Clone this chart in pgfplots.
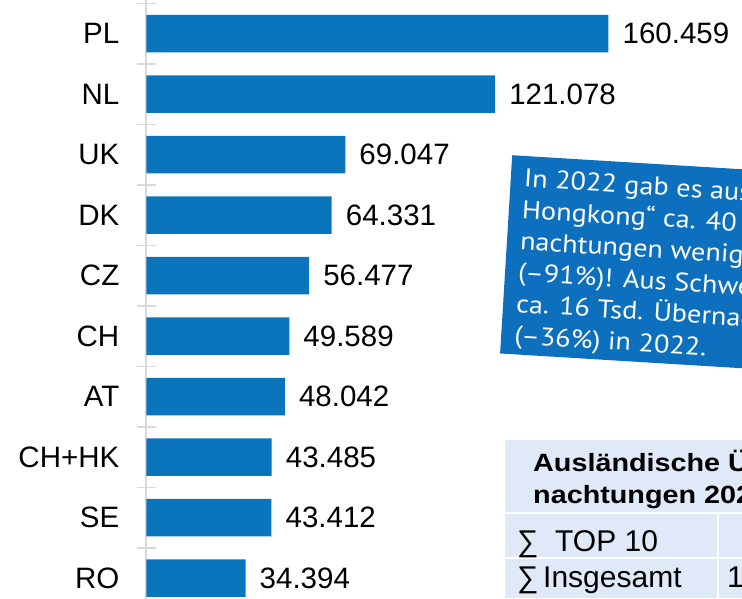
\documentclass[border=0pt]{standalone}
\usepackage{pgfplots}
\pgfplotsset{compat=1.18}
\usepackage{fontspec}
\setmainfont{Liberation Sans}
\newfontfamily\boxfont{PT Sans}
\definecolor{barblue}{RGB}{10,116,189}
\definecolor{boxblue}{RGB}{12,112,190}
\definecolor{tabbg}{RGB}{224,233,247}
\definecolor{axgray}{RGB}{217,217,217}
\begin{document}
\begin{tikzpicture}[x=1pt,y=1pt]
\useasboundingbox (0,0) rectangle (742,-598);
\clip (0,0) rectangle (742,-598);
\begin{axis}[
  anchor=north west, at={(146.5pt,0.38pt)},
  scale only axis,
  x=2.879pt, y=60.5pt, y dir=reverse,
  xmin=0, xmax=200, ymin=-0.56, ymax=9.6,
  xbar, bar width=37.5pt,
  axis x line=none, axis y line*=left,
  axis line style={axgray, line width=2pt},
  ytick={0,...,9},
  yticklabels={PL,NL,UK,DK,CZ,CH,AT,CH+HK,SE,RO},
  minor ytick={-0.5,0.5,...,9.5},
  major tick length=0pt, minor tick length=18pt, tick align=center,
  minor tick style={axgray, line width=1.5pt},
  yticklabel style={font=\fontsize{29.5}{34}\selectfont, inner sep=0pt, anchor=east, xshift=-27pt},
  nodes near coords={\pgfmathprintnumber[fixed,fixed zerofill,precision=3,assume math mode=true]{\pgfplotspointmeta}},
  point meta=x,
  nodes near coords style={font=\fontsize{29.5}{34}\selectfont, anchor=west, inner sep=0pt, xshift=14pt},
  clip=false,
]
\addplot[fill=barblue, draw=none] coordinates {
(160.459,0) (121.078,1) (69.047,2) (64.331,3) (56.477,4)
(49.589,5) (48.042,6) (43.485,7) (43.412,8) (34.394,9)};
\end{axis}
% text box
\node[rotate=-3.5, xscale=1.11, anchor=north west, fill=boxblue, text=white, inner xsep=12pt, inner ysep=5pt, align=left, font=\boxfont\fontsize{25.5}{31.4}\selectfont] at (512,-155)
{\rule{0pt}{26pt}In 2022 gab es aus „China inkl.\\ Hongkong“ ca. 40 Tsd. Über-\\ nachtungen weniger als 2019\\ (–91\%)! Aus Schweden kamen\\ ca. 16 Tsd. Übernachtungen\\ (–36\%) in 2022.};
% table
\fill[tabbg] (505,-440) rectangle (760,-598);
\draw[white, line width=2pt] (505,-513) -- (760,-513) (505,-558) -- (760,-558) (718,-513) -- (718,-598);
\node[anchor=base west, inner sep=0pt, xscale=1.15, font=\bfseries\fontsize{25}{30}\selectfont] at (533,-471) {Ausländische Über-};
\node[anchor=base west, inner sep=0pt, xscale=1.15, font=\bfseries\fontsize{25}{30}\selectfont] at (533,-503) {nachtungen 2022};
\node[anchor=base west, inner sep=0pt, font=\fontsize{30}{34}\selectfont] at (517,-551) {∑};
\node[anchor=base west, inner sep=0pt, font=\fontsize{30}{34}\selectfont] at (555,-551) {TOP 10};
\node[anchor=base west, inner sep=0pt, font=\fontsize{30}{34}\selectfont] at (517,-587) {∑};
\node[anchor=base west, inner sep=0pt, font=\fontsize{30}{34}\selectfont] at (543,-587) {Insgesamt};
\node[anchor=base west, inner sep=0pt, font=\fontsize{30}{34}\selectfont] at (727,-587) {1.090.000};
\node[anchor=base west, inner sep=0pt, font=\fontsize{30}{34}\selectfont] at (755,-551) {690.314};
\end{tikzpicture}
\end{document}
